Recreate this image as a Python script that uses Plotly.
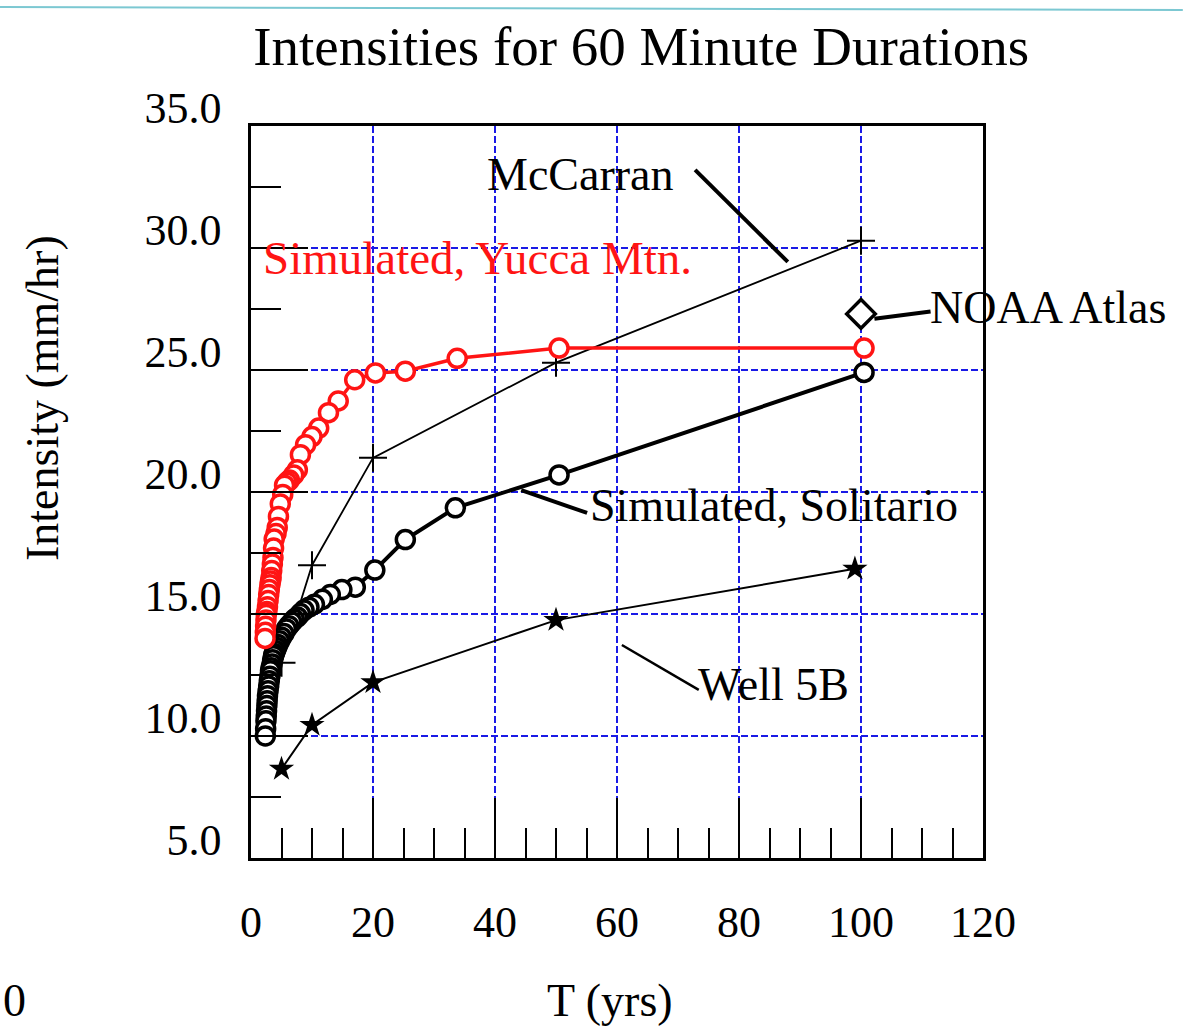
import plotly.graph_objects as go

# ---------------- data ----------------
# Simulated, Yucca Mtn. (red open circles)
yucca_T = [100.5, 50.5, 33.8, 25.3, 20.4, 17.0, 14.3, 12.7, 11.1, 10.0,
           8.95, 8.1, 7.6, 7.0, 6.3, 5.9, 5.5, 5.2, 4.8, 4.5,
           4.3, 4.1, 3.8, 3.7, 3.6, 3.5, 3.4, 3.3, 3.2, 3.1,
           3.0, 2.9, 2.8, 2.7, 2.6, 2.5, 2.45, 2.4, 2.35, 2.3]
yucca_I = [25.9, 25.9, 25.48, 24.95, 24.88, 24.6, 23.73, 23.25, 22.62, 22.27,
           21.94, 21.53, 20.91, 20.7, 20.49, 20.4, 20.28, 19.9, 19.51, 19.0,
           18.55, 18.3, 18.07, 17.7, 17.32, 17.05, 16.78, 16.5, 16.35, 16.2,
           16.0, 15.8, 15.55, 15.3, 15.1, 14.98, 14.75, 14.5, 14.25, 14.0]

# Simulated, Solitario (black open circles)
solitario_T = [100.5, 50.5, 33.5, 25.3, 20.3, 17.1, 14.9, 13.0, 11.7, 10.4,
               9.5, 8.7, 8.1, 7.6, 7.1, 6.7, 6.2, 5.8, 5.4, 5.0,
               4.7, 4.4, 4.2, 4.0, 3.8, 3.7, 3.55, 3.45, 3.3, 3.2,
               3.1, 3.0, 2.9, 2.8, 2.7, 2.65, 2.6, 2.55, 2.5, 2.45, 2.4, 2.35]
solitario_I = [24.9, 20.7, 19.35, 18.05, 16.8, 16.1, 16.0, 15.8, 15.6, 15.4,
               15.28, 15.16, 15.02, 14.88, 14.78, 14.67, 14.52, 14.39, 14.2, 14.05,
               13.9, 13.75, 13.63, 13.5, 13.38, 13.29, 13.12, 12.95, 12.8, 12.67,
               12.45, 12.26, 12.05, 11.85, 11.65, 11.44, 11.25, 11.03, 10.82, 10.62, 10.3, 10.0]

# McCarran (+ markers)
mccarran_T = [5, 10, 20, 50, 100]
mccarran_I = [13.0, 17.0, 21.4, 25.3, 30.3]

# Well 5B (stars)
well_T = [5, 10, 20, 50, 99]
well_I = [8.65, 10.45, 12.2, 14.75, 16.85]

# NOAA Atlas (diamond)
noaa_T = [100]
noaa_I = [27.3]

x_ticks = [0, 20, 40, 60, 80, 100, 120]
y_ticks = [5, 10, 15, 20, 25, 30, 35]

# ---------------- styles ----------------
FONT = "Liberation Serif"
RED = "#ff1414"
BLUE = "#1a1ae6"

fig = go.Figure()

fig.add_trace(go.Scatter(
    x=mccarran_T, y=mccarran_I, mode="lines+markers", name="McCarran",
    line=dict(color="black", width=1.8),
    marker=dict(symbol="cross-thin", size=20, line=dict(color="black", width=2))))

fig.add_trace(go.Scatter(
    x=well_T, y=well_I, mode="lines+markers", name="Well 5B",
    line=dict(color="black", width=2),
    marker=dict(symbol="star", size=19, color="black")))

fig.add_trace(go.Scatter(
    x=solitario_T, y=solitario_I, mode="lines+markers", name="Simulated, Solitario",
    line=dict(color="black", width=4),
    marker=dict(symbol="circle", size=18, color="white", line=dict(color="black", width=3.5))))

fig.add_trace(go.Scatter(
    x=yucca_T, y=yucca_I, mode="lines+markers", name="Simulated, Yucca Mtn.",
    line=dict(color=RED, width=3.5),
    marker=dict(symbol="circle", size=18, color="white", line=dict(color=RED, width=3.5))))

fig.add_trace(go.Scatter(
    x=noaa_T, y=noaa_I, mode="markers", name="NOAA Atlas",
    marker=dict(symbol="diamond", size=22, color="white", line=dict(color="black", width=3.5))))

# ---------------- labels and leader lines ----------------
ann_font = dict(family=FONT, size=46, color="black")
annotations = [
    dict(x=53.9, y=33.0, text="McCarran", xanchor="center", yanchor="middle", font=ann_font),
    dict(x=37.2, y=29.6, text="Simulated, Yucca Mtn.", xanchor="center", yanchor="middle",
         font=dict(family=FONT, size=47, color=RED)),
    dict(x=111.0, y=27.55, text="NOAA Atlas", xanchor="left", yanchor="middle", font=ann_font),
    dict(x=55.2, y=19.45, text="Simulated, Solitario", xanchor="left", yanchor="middle", font=ann_font),
    dict(x=73.0, y=12.1, text="Well 5B", xanchor="left", yanchor="middle", font=ann_font),
    # axis titles
    dict(x=0.4904, y=-0.194, xref="paper", yref="paper", text="T (yrs)",
         xanchor="center", yanchor="middle", font=ann_font),
    dict(x=-0.2855, y=0.6284, xref="paper", yref="paper", text="Intensity (mm/hr)",
         textangle=-90, xanchor="center", yanchor="middle", font=ann_font),
    # label from the neighbouring chart at the scan edge
    dict(x=-0.3415, y=-0.194, xref="paper", yref="paper", text="0",
         xanchor="left", yanchor="middle", font=ann_font),
]
for a in annotations:
    a["showarrow"] = False

shapes = [
    dict(type="line", x0=72.8, y0=33.2, x1=88.0, y1=29.43, line=dict(color="black", width=4)),
    dict(type="line", x0=102.2, y0=27.1, x1=111.4, y1=27.4, line=dict(color="black", width=4)),
    dict(type="line", x0=44.3, y0=20.08, x1=55.1, y1=19.14, line=dict(color="black", width=4)),
    dict(type="line", x0=60.8, y0=13.73, x1=73.4, y1=11.89, line=dict(color="black", width=2.5)),
    # scan edge line along the top
    dict(type="line", xref="paper", yref="paper", x0=-0.343, y0=1.1625, x1=1.273, y1=1.1585,
         line=dict(color="#7cc8d2", width=2)),
]

axis_common = dict(
    showline=True, linecolor="black", linewidth=2.5, mirror=True,
    showgrid=True, gridcolor=BLUE, gridwidth=2, griddash="7px,3px",
    zeroline=False, ticks="inside", tickcolor="black", tickwidth=2,
    tickfont=dict(family=FONT, size=44, color="black"),
)

fig.update_layout(
    width=1183, height=1026,
    margin=dict(l=251, r=200, t=126, b=168),
    paper_bgcolor="white", plot_bgcolor="white",
    showlegend=False,
    title=dict(text="Intensities for 60 Minute Durations", x=0.533, xref="paper", xanchor="center",
               y=1 - 46 / 1026, yref="container", yanchor="middle",
               font=dict(family=FONT, size=55, color="black")),
    xaxis=dict(axis_common, range=[0, 120], tickvals=x_ticks, ticklen=60,
               ticklabelstandoff=23,
               minor=dict(dtick=5, tick0=0, ticks="inside", ticklen=30, tickwidth=2,
                          tickcolor="black", showgrid=False)),
    yaxis=dict(axis_common, range=[5, 35], tickvals=y_ticks, tickformat=".1f", ticklen=57,
               ticklabelstandoff=18, ticklabelshift=-18,
               minor=dict(dtick=2.5, tick0=5, ticks="inside", ticklen=30, tickwidth=2,
                          tickcolor="black", showgrid=False)),
    annotations=annotations,
    shapes=shapes,
)

fig.write_html("out.html", config={"displayModeBar": False},
               post_script="document.body.style.margin='0px';")
